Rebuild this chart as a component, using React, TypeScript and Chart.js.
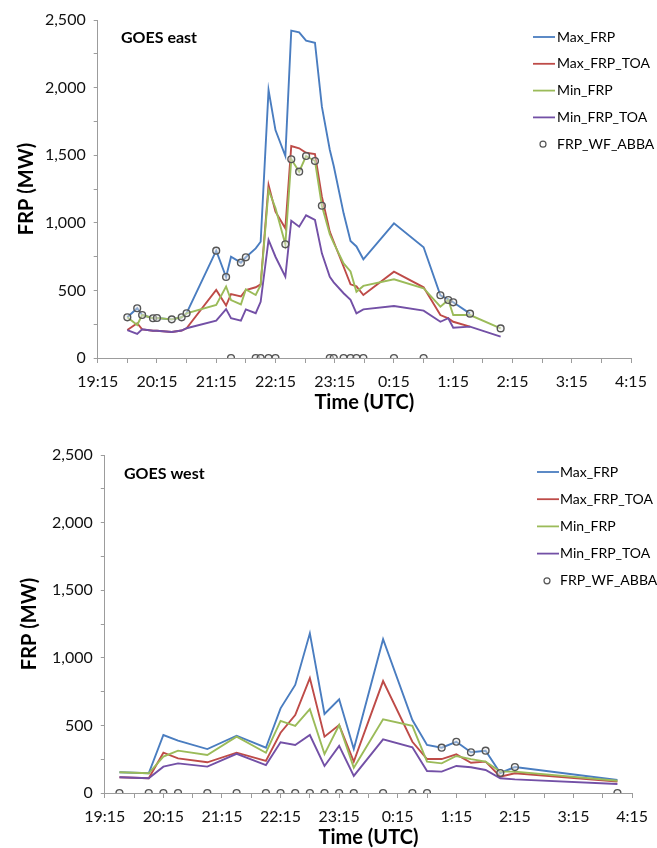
import React, { useEffect, useRef } from "react";
import { Chart, registerables } from "chart.js";

Chart.register(...registerables);

const FONT = "Lato, 'DejaVu Sans', sans-serif";

const seriesNames = ["Max_FRP", "Max_FRP_TOA", "Min_FRP", "Min_FRP_TOA", "FRP_WF_ABBA"];
const seriesColors = ["#4A7DC0", "#BE4B48", "#9BBB59", "#7350A6", "#555555"];

const xTickLabels = ["19:15", "20:15", "21:15", "22:15", "23:15", "0:15", "1:15", "2:15", "3:15", "4:15"];
const yTickLabels = ["0", "500", "1,000", "1,500", "2,000", "2,500"];

// ---------- GOES east ----------
const eastTimes = [
  "19:45", "19:55", "20:00", "20:11", "20:15", "20:30", "20:40", "20:45", "21:15", "21:25",
  "21:30", "21:40", "21:45", "21:55", "22:00", "22:08", "22:15", "22:25", "22:31", "22:39",
  "22:46", "22:55", "23:02", "23:10", "23:14", "23:24", "23:31", "23:37", "23:44", "0:15",
  "0:45", "1:02", "1:10", "1:15", "1:32", "2:03",
];
const eastMaxFRP = [
  301, 368, 318, 294, 296, 286, 301, 331, 794, 599,
  749, 705, 745, 811, 860, 1982, 1686, 1494, 2421, 2409,
  2347, 2332, 1859, 1540, 1420, 1070, 865, 825, 730, 996,
  819, 464, 434, 412, 328, null,
];
const eastMaxFRPTOA = [
  207, 257, 212, 202, 202, 192, 203, 220, 503, 388,
  473, 455, 503, 523, 545, 1280, 1082, 959, 1568, 1551,
  1518, 1509, 1193, 935, 860, 675, 545, 530, 466, 638,
  523, 318, 294, 268, 232, null,
];
const eastMinFRP = [
  301, 244, 318, 294, 296, 286, 301, 331, 392, 529,
  429, 396, 507, 466, 540, 1243, 1110, 841, 1470, 1378,
  1494, 1457, 1126, 915, 850, 700, 640, 490, 533, 582,
  516, 379, 429, 318, 318, 219,
];
const eastMinFRPTOA = [
  207, 178, 212, 202, 202, 192, 203, 220, 276, 362,
  294, 276, 359, 331, 416, 873, 749, 601, 1015, 971,
  1055, 1021, 774, 601, 560, 479, 430, 330, 360, 385,
  350, 268, 294, 224, 232, 158,
];
const eastABBA = [
  301, 368, 318, 294, 296, 286, 301, 331, 794, 599,
  0, 705, 745, 0, 0, 0, 0, 841, 1470, 1378,
  1494, 1457, 1126, 0, 0, 0, 0, 0, 0, 0,
  0, 464, 429, 412, 328, 219,
];

// ---------- GOES west ----------
const westTimes = [
  "19:30", "20:00", "20:15", "20:30", "21:00", "21:30", "22:00", "22:15", "22:30", "22:45",
  "23:00", "23:15", "23:30", "0:00", "0:30", "0:45", "1:00", "1:15", "1:30", "1:45",
  "2:00", "2:15", "4:00",
];
const westMaxFRP = [
  153, 146, 429, 387, 325, 424, 335, 626, 799, 1181,
  584, 693, 325, 1137, 540, 355, 335, 379, 301, 313,
  148, 192, 96,
];
const westMaxFRPTOA = [
  116, 109, 298, 256, 227, 298, 237, 446, 577, 850,
  417, 503, 232, 828, 379, 251, 251, 286, 224, 232,
  121, 146, 84,
];
const westMinFRP = [
  153, 146, 269, 313, 281, 417, 298, 533, 496, 620,
  288, 503, 187, 545, 496, 232, 219, 274, 251, 232,
  158, 158, 91,
];
const westMinFRPTOA = [
  116, 109, 195, 219, 195, 290, 207, 375, 355, 429,
  200, 348, 126, 397, 338, 163, 158, 200, 190, 170,
  109, 101, 67,
];
const westABBA = [
  0, 0, 0, 0, 0, 0, 0, 0, 0, 0,
  0, 0, 0, 0, 0, 0, 335, 379, 301, 313,
  148, 192, 0,
];

function toMinutes(t: string): number {
  const [h, m] = t.split(":").map(Number);
  const hh = h < 12 ? h + 24 : h;
  return hh * 60 + m - (19 * 60 + 15);
}

function toPoints(times: string[], values: (number | null)[]) {
  const pts: { x: number; y: number }[] = [];
  times.forEach((t, i) => {
    const v = values[i];
    if (v !== null && v !== undefined) pts.push({ x: toMinutes(t), y: v });
  });
  return pts;
}

type PanelSpec = {
  panelLabel: string;
  times: string[];
  series: (number | null)[][];
  padTop: number;
  padRight: number;
  axisLeft: number;
  xAxisHeight: number;
  xTitlePad: number;
  yTitlePad: number;
  labelX: number;
  labelY: number;
  legendLineX: number;
  legendTextX: number;
  legendCircleX: number;
  legendY: number;
  legendStep: number;
};

const eastSpec: PanelSpec = {
  panelLabel: "GOES east",
  times: eastTimes,
  series: [eastMaxFRP, eastMaxFRPTOA, eastMinFRP, eastMinFRPTOA, eastABBA],
  padTop: 20,
  padRight: 26,
  axisLeft: 97.7,
  xAxisHeight: 66,
  xTitlePad: 11,
  yTitlePad: 16.7,
  labelX: 121,
  labelY: 37.5,
  legendLineX: 533,
  legendTextX: 557,
  legendCircleX: 543,
  legendY: 37,
  legendStep: 26.8,
};

const westSpec: PanelSpec = {
  panelLabel: "GOES west",
  times: westTimes,
  series: [westMaxFRP, westMaxFRPTOA, westMinFRP, westMinFRPTOA, westABBA],
  padTop: 31,
  padRight: 19.4,
  axisLeft: 104.8,
  xAxisHeight: 55,
  xTitlePad: 0,
  yTitlePad: 20,
  labelX: 124,
  labelY: 49.5,
  legendLineX: 537,
  legendTextX: 560,
  legendCircleX: 547,
  legendY: 48,
  legendStep: 27.2,
};

function decorPlugin(p: PanelSpec) {
  return {
    id: "panelDecor",
    afterDraw(chart: any) {
      const ctx = chart.ctx as CanvasRenderingContext2D;
      ctx.save();
      ctx.textBaseline = "middle";
      ctx.textAlign = "left";
      ctx.fillStyle = "#000";
      ctx.font = `bold 16px ${FONT}`;
      ctx.fillText(p.panelLabel, p.labelX, p.labelY);
      ctx.font = `14px ${FONT}`;
      chart.data.datasets.forEach((ds: any, i: number) => {
        const y = p.legendY + i * p.legendStep;
        if (ds.showLine === false) {
          ctx.beginPath();
          ctx.arc(p.legendCircleX, y, 3, 0, Math.PI * 2);
          ctx.strokeStyle = "#555";
          ctx.lineWidth = 1.2;
          ctx.stroke();
        } else {
          ctx.beginPath();
          ctx.moveTo(p.legendLineX, y);
          ctx.lineTo(p.legendLineX + 22, y);
          ctx.strokeStyle = ds.borderColor;
          ctx.lineWidth = 1.8;
          ctx.stroke();
        }
        ctx.fillStyle = "#000";
        ctx.fillText(ds.label, p.legendTextX, y);
      });
      ctx.restore();
    },
  };
}

function makeConfig(p: PanelSpec): any {
  const lineDs = (i: number) => ({
    type: "line",
    label: seriesNames[i],
    data: toPoints(p.times, p.series[i]),
    borderColor: seriesColors[i],
    backgroundColor: seriesColors[i],
    borderWidth: 1.9,
    pointRadius: 0,
    pointHoverRadius: 0,
    tension: 0,
    fill: false,
    order: 4 - i,
  });
  const axisGray = "#9c9c9c";
  return {
    type: "line",
    data: {
      datasets: [
        lineDs(0),
        lineDs(1),
        lineDs(2),
        lineDs(3),
        {
          type: "line",
          label: seriesNames[4],
          data: toPoints(p.times, p.series[4]),
          showLine: false,
          pointRadius: 3.4,
          pointBorderWidth: 1.4,
          pointBorderColor: seriesColors[4],
          pointBackgroundColor: "rgba(230,230,230,0.45)",
          borderColor: seriesColors[4],
          backgroundColor: "rgba(0,0,0,0)",
          order: 0,
        },
      ],
    },
    options: {
      responsive: false,
      animation: false,
      devicePixelRatio: 1,
      layout: { padding: { left: 0, top: p.padTop, right: p.padRight, bottom: 0 } },
      plugins: { legend: { display: false }, tooltip: { enabled: false } },
      scales: {
        x: {
          type: "linear",
          min: 0,
          max: 540,
          afterFit: (s: any) => {
            s.height = p.xAxisHeight;
          },
          ticks: {
            stepSize: 30,
            autoSkip: false,
            maxRotation: 0,
            minRotation: 0,
            padding: 9,
            color: "#111",
            font: { family: FONT, size: 16 },
            callback: (v: any) => (Number(v) % 60 === 0 ? xTickLabels[Number(v) / 60] : ""),
          },
          grid: { drawOnChartArea: false, drawTicks: true, tickLength: 5, tickColor: axisGray, tickWidth: 1 },
          border: { display: true, color: axisGray, width: 1 },
          title: {
            display: true,
            text: "Time (UTC)",
            color: "#000",
            font: { family: FONT, size: 20, weight: "bold", lineHeight: 1 },
            padding: { top: 0, bottom: p.xTitlePad },
          },
        },
        y: {
          type: "linear",
          min: 0,
          max: 2500,
          afterFit: (s: any) => {
            s.width = p.axisLeft;
          },
          ticks: {
            stepSize: 250,
            autoSkip: false,
            padding: 8,
            color: "#111",
            font: { family: FONT, size: 16 },
            callback: (v: any) => (Number(v) % 500 === 0 ? yTickLabels[Number(v) / 500] : ""),
          },
          grid: { drawOnChartArea: false, drawTicks: true, tickLength: 4, tickColor: axisGray, tickWidth: 1 },
          border: { display: true, color: axisGray, width: 1 },
          title: {
            display: true,
            text: "FRP (MW)",
            color: "#000",
            font: { family: FONT, size: 20, weight: "bold", lineHeight: 1 },
            padding: { top: p.yTitlePad, bottom: 0 },
          },
        },
      },
    },
    plugins: [decorPlugin(p)],
  };
}

function Panel({ spec, top }: { spec: PanelSpec; top: number }) {
  const ref = useRef<HTMLCanvasElement>(null);
  useEffect(() => {
    if (!ref.current) return;
    const chart = new Chart(ref.current, makeConfig(spec));
    return () => chart.destroy();
  }, [spec]);
  return (
    <canvas
      ref={ref}
      width={657}
      height={424}
      style={{ position: "absolute", left: 0, top, width: 657, height: 424 }}
    />
  );
}

export default function App() {
  return (
    <div style={{ position: "absolute", left: 0, top: 0, width: 657, height: 848, background: "#fff" }}>
      <Panel spec={eastSpec} top={0} />
      <Panel spec={westSpec} top={424} />
    </div>
  );
}
